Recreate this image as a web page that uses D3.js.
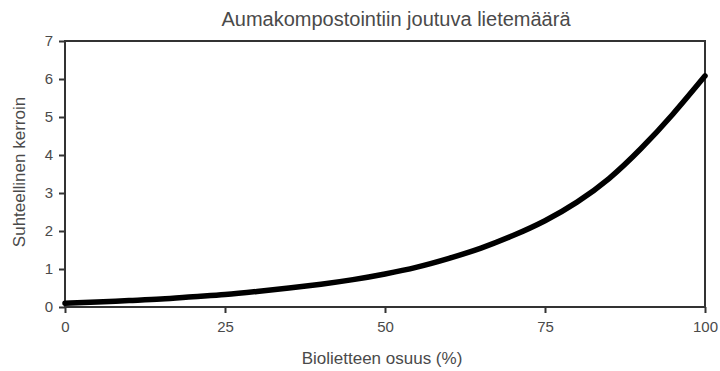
<!DOCTYPE html>
<html>
<head>
<meta charset="utf-8">
<script src="https://cdn.jsdelivr.net/npm/d3@7"></script>
<style>
  body { margin: 0; background: #fff; }
  svg { display: block; font-family: "Liberation Sans", Arial, sans-serif; }
</style>
</head>
<body>
<div id="chart"></div>
<script>
// biolietteen osuus (%) and relative coefficient
const osuus = [0, 5, 10, 15, 20, 25, 30, 35, 40, 45, 50, 55, 60, 65, 70, 75, 80, 85, 90, 95, 100];
const kerroin = [0.10, 0.13, 0.17, 0.21, 0.27, 0.33, 0.41, 0.50, 0.60, 0.72, 0.87, 1.05, 1.28, 1.55, 1.88, 2.27, 2.76, 3.38, 4.17, 5.08, 6.08];
const xTicks = [0, 25, 50, 75, 100];
const yTicks = [0, 1, 2, 3, 4, 5, 6, 7];

const width = 720;
const height = 371;
const margin = {top: 41, right: 15, bottom: 64, left: 65};

const data = osuus.map((d, i) => ({x: d, y: kerroin[i]}));

const x = d3.scaleLinear()
  .domain([0, 100])
  .range([margin.left, width - margin.right]);

const y = d3.scaleLinear()
  .domain([0, 7])
  .range([height - margin.bottom, margin.top]);

const svg = d3.select("#chart").append("svg")
  .attr("width", width)
  .attr("height", height);

const axisColor = "#333";
const textColor = "#4a4a4a";

// frame
svg.append("rect")
  .attr("x", x(0))
  .attr("y", y(7))
  .attr("width", x(100) - x(0))
  .attr("height", y(0) - y(7))
  .attr("fill", "none")
  .attr("stroke", axisColor)
  .attr("stroke-width", 2);

// x axis
svg.append("g")
  .attr("transform", `translate(0,${y(0)})`)
  .call(d3.axisBottom(x).tickValues(xTicks).tickSize(6).tickPadding(8))
  .call(g => g.select(".domain").remove())
  .call(g => g.selectAll("line").attr("stroke", axisColor).attr("stroke-width", 2))
  .call(g => g.selectAll("text")
    .attr("fill", textColor)
    .style("font-size", "15px"));

// y axis
svg.append("g")
  .attr("transform", `translate(${x(0)},0)`)
  .call(d3.axisLeft(y).tickValues(yTicks).tickFormat(d3.format("d")).tickSize(6).tickPadding(6))
  .call(g => g.select(".domain").remove())
  .call(g => g.selectAll("line").attr("stroke", axisColor).attr("stroke-width", 2))
  .call(g => g.selectAll("text")
    .attr("fill", textColor)
    .style("font-size", "15px"));

// curve
svg.append("path")
  .datum(data)
  .attr("fill", "none")
  .attr("stroke", "#000")
  .attr("stroke-width", 5.5)
  .attr("stroke-linecap", "round")
  .attr("stroke-linejoin", "round")
  .attr("d", d3.line()
    .x(d => x(d.x))
    .y(d => y(d.y))
    .curve(d3.curveNatural));

// title
svg.append("text")
  .attr("x", 396)
  .attr("y", 26)
  .attr("text-anchor", "middle")
  .attr("fill", textColor)
  .style("font-size", "20px")
  .text("Aumakompostointiin joutuva lietemäärä");

// x label
svg.append("text")
  .attr("x", 382)
  .attr("y", 364)
  .attr("text-anchor", "middle")
  .attr("fill", textColor)
  .style("font-size", "17px")
  .text("Biolietteen osuus (%)");

// y label
svg.append("text")
  .attr("transform", `translate(25,172) rotate(-90)`)
  .attr("text-anchor", "middle")
  .attr("fill", textColor)
  .style("font-size", "17px")
  .text("Suhteellinen kerroin");
</script>
</body>
</html>
